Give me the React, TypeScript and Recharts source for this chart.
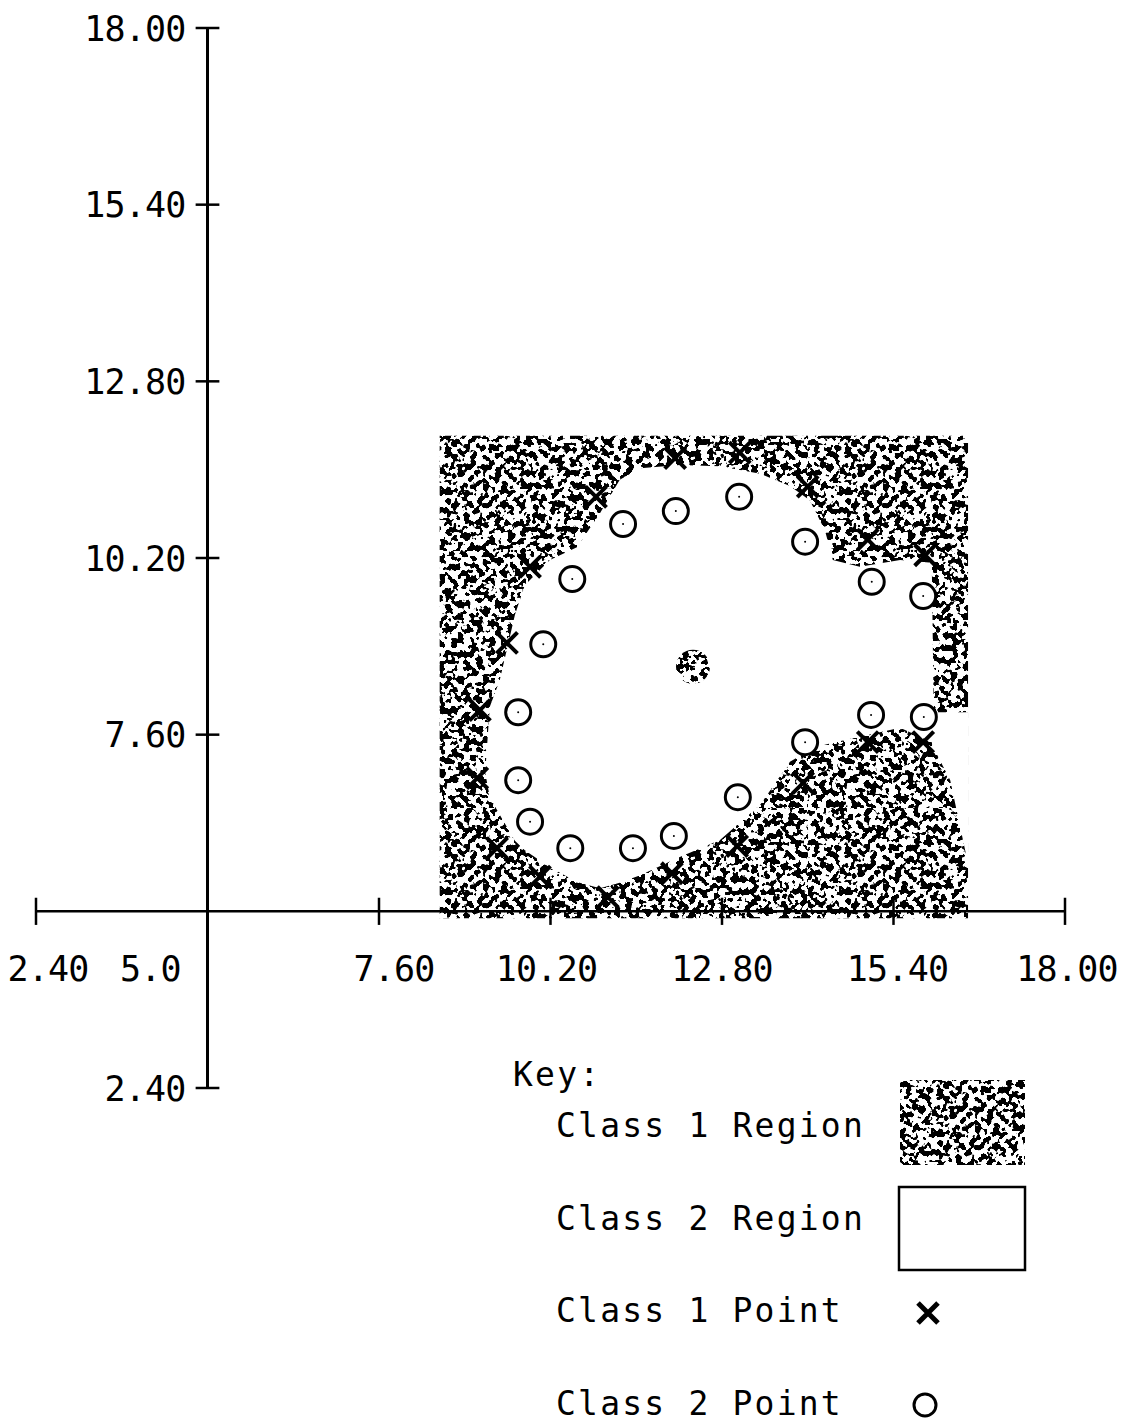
import React from 'react';
import {
  ComposedChart,
  Area,
  Scatter,
  XAxis,
  YAxis,
  ReferenceLine,
  ReferenceDot,
  Legend,
} from 'recharts';

const FONT = '"DejaVu Sans Mono", monospace';

// axis ticks (axes cross at 5.0)
const xTickValues = [2.4, 5.0, 7.6, 10.2, 12.8, 15.4, 18.0];
const xTickLabels = ['2.40', '5.0', '7.60', '10.20', '12.80', '15.40', '18.00'];
const yTickValues = [18.0, 15.4, 12.8, 10.2, 7.6, 2.4];
const yTickLabels = ['18.00', '15.40', '12.80', '10.20', '7.60', '2.40'];

// class 1 region is the whole box, class 2 region is cut out of it (lower / upper edge at each x)
const regionX = [8.52, 9.21, 9.28, 9.43, 9.66, 9.81, 10.19, 10.6, 10.95, 11.25, 11.56, 12.16, 12.77, 13.38, 13.83, 14.13, 14.36, 14.48, 14.89, 15.5, 15.98, 16.01, 16.26, 16.53];
const class1Range = [4.9, 12.0];
const class2Lower = [7.04, 7.04, 6.68, 6.42, 6.04, 5.9, 5.65, 5.43, 5.34, 5.42, 5.53, 5.8, 6.05, 6.57, 7.2, 7.37, 7.45, 7.48, 7.57, 7.7, 7.49, 7.4, 6.93, 5.7];
const class2Upper = [7.04, 7.04, 8.01, 8.4, 9.36, 9.8, 10.17, 10.36, 10.86, 11.35, 11.52, 11.57, 11.55, 11.44, 11.26, 11.05, 10.61, 10.17, 10.07, 10.17, 10.13, 7.93, 7.93, 7.93];

// small class 1 island in the middle
const islandX = [12.36];
const islandY = [8.6];

// training points
const class1X = [12.09, 13.07, 10.89, 9.89, 9.54, 9.13, 9.09, 9.39, 10.04, 11.07, 12.04, 13.03, 14.03, 15.01, 15.85, 15.01, 15.88, 14.1];
const class1Y = [11.67, 11.75, 11.1, 10.07, 8.95, 7.96, 6.96, 5.93, 5.51, 5.21, 5.56, 5.96, 6.89, 7.49, 7.49, 10.47, 10.24, 11.25];
const class2X = [11.3, 12.1, 13.06, 14.06, 15.07, 15.85, 10.53, 10.09, 9.71, 9.71, 9.89, 10.5, 11.45, 12.07, 13.04, 14.06, 15.06, 15.86];
const class2Y = [10.7, 10.89, 11.1, 10.44, 9.85, 9.64, 9.89, 8.93, 7.93, 6.93, 6.32, 5.93, 5.93, 6.11, 6.68, 7.49, 7.89, 7.86];

const keyTitle = 'Key:';
const keyLabels = ['Class 1 Region', 'Class 2 Region', 'Class 1 Point', 'Class 2 Point'];

const regionData = regionX.map((x, i) => ({
  x,
  class1: class1Range,
  class2: [class2Lower[i], class2Upper[i]],
}));
const islandData = islandX.map((x, i) => ({ x, y: islandY[i] }));
const class1Data = class1X.map((x, i) => ({ x, y: class1Y[i] }));
const class2Data = class2X.map((x, i) => ({ x, y: class2Y[i] }));

// label nudges, the original plotter put a few labels off-centre
const xLabelShift: Record<string, number> = { '2.40': 12, '5.0': -57, '7.60': 15, '10.20': -4, '15.40': 4, '18.00': 2 };

const XLabel = (props: any) => {
  const { viewBox, text } = props;
  const cx = viewBox.x + viewBox.width / 2;
  const cy = viewBox.y + viewBox.height / 2;
  return (
    <text x={cx + (xLabelShift[text] || 0)} y={cy + 70} textAnchor="middle"
      fontFamily={FONT} fontSize={35} letterSpacing={-0.8} fill="#000">
      {text}
    </text>
  );
};

const YLabel = (props: any) => {
  const { viewBox, text } = props;
  const cx = viewBox.x + viewBox.width / 2;
  const cy = viewBox.y + viewBox.height / 2;
  return (
    <text x={cx - 22} y={cy + 12.5} textAnchor="end"
      fontFamily={FONT} fontSize={35} letterSpacing={-0.8} fill="#000">
      {text}
    </text>
  );
};

const Cross = (props: any) => {
  const { cx, cy } = props;
  const s = 10.5;
  return (
    <path d={`M${cx - s},${cy - s}L${cx + s},${cy + s}M${cx - s},${cy + s}L${cx + s},${cy - s}`}
      stroke="#000" strokeWidth={4} fill="none" />
  );
};

const Ring = (props: any) => {
  const { cx, cy } = props;
  return (
    <g>
      <circle cx={cx} cy={cy} r={12.5} stroke="#000" strokeWidth={3} fill="#fff" />
      <circle cx={cx} cy={cy} r={1} fill="#000" />
    </g>
  );
};

const Island = (props: any) => {
  const { cx, cy } = props;
  return <circle cx={cx} cy={cy} r={17} fill="url(#stipple)" />;
};

const KeyBox = () => (
  <svg width={560} height={380} style={{ display: 'block' }}>
    <g fontFamily={FONT} fontSize={33} letterSpacing={2.2} fill="#000">
      <text x={13} y={36}>{keyTitle}</text>
      <text x={56} y={87}>{keyLabels[0]}</text>
      <text x={56} y={180}>{keyLabels[1]}</text>
      <text x={56} y={272}>{keyLabels[2]}</text>
      <text x={56} y={365}>{keyLabels[3]}</text>
    </g>
    <rect x={400} y={30} width={125} height={85} fill="url(#stipple)" />
    <rect x={399} y={137} width={126} height={83} fill="none" stroke="#000" strokeWidth={2.5} />
    <path d="M418,253L438,273M418,273L438,253" stroke="#000" strokeWidth={5} fill="none" />
    <circle cx={425} cy={355} r={11} stroke="#000" strokeWidth={3} fill="none" />
  </svg>
);

const StippleDefs = () => (
  <svg width={0} height={0} style={{ position: 'absolute' }}>
    <defs>
      <filter id="stippleNoise" x="0" y="0" width="1" height="1" colorInterpolationFilters="sRGB">
        <feTurbulence type="fractalNoise" baseFrequency="0.16" numOctaves={2} seed={7} />
        <feColorMatrix type="matrix" values="0 0 0 0 0  0 0 0 0 0  0 0 0 0 0  -40 0 0 0 20.1" />
        <feComposite in2="SourceAlpha" operator="in" />
      </filter>
      <pattern id="stipple" patternUnits="userSpaceOnUse" width="400" height="400">
        <rect width="400" height="400" fill="#000" filter="url(#stippleNoise)" />
      </pattern>
    </defs>
  </svg>
);

export default function App() {
  return (
    <div style={{ position: 'relative', width: 1117, height: 1412, background: '#fff' }}>
      <StippleDefs />
      <ComposedChart width={1117} height={1412} data={regionData}
        margin={{ top: 20, right: 60, bottom: 332, left: 28 }}>
        <XAxis type="number" dataKey="x" domain={[2.4, 18]} allowDataOverflow hide />
        <YAxis type="number" domain={[2.4, 18]} allowDataOverflow hide />

        <Area type="linear" dataKey="class1" stroke="none" fill="url(#stipple)" fillOpacity={1}
          isAnimationActive={false} activeDot={false} />
        <Area type="linear" dataKey="class2" stroke="none" fill="#fff" fillOpacity={1}
          isAnimationActive={false} activeDot={false} />
        <Scatter data={islandData} dataKey="y" shape={Island} isAnimationActive={false} />

        <ReferenceLine x={5} stroke="#000" strokeWidth={3} />
        <ReferenceLine y={5} stroke="#000" strokeWidth={2.5} />
        {xTickValues.map((v, i) => (
          <React.Fragment key={'xt' + i}>
            {v !== 5 && (
              <ReferenceLine segment={[{ x: v, y: 4.8 }, { x: v, y: 5.2 }]} stroke="#000" strokeWidth={2.5} />
            )}
            <ReferenceDot x={v} y={5} r={0} fill="none" stroke="none"
              label={<XLabel text={xTickLabels[i]} />} />
          </React.Fragment>
        ))}
        {yTickValues.map((v, i) => (
          <React.Fragment key={'yt' + i}>
            <ReferenceLine segment={[{ x: 4.82, y: v }, { x: 5.18, y: v }]} stroke="#000" strokeWidth={2.5} />
            <ReferenceDot x={5} y={v} r={0} fill="none" stroke="none"
              label={<YLabel text={yTickLabels[i]} />} />
          </React.Fragment>
        ))}

        <Scatter name="Class 2 Point" data={class2Data} dataKey="y" shape={Ring} isAnimationActive={false} />
        <Scatter name="Class 1 Point" data={class1Data} dataKey="y" shape={Cross} isAnimationActive={false} />

        <Legend layout="vertical" align="center" verticalAlign="middle" content={KeyBox}
          wrapperStyle={{ left: 492, top: 1042, width: 560, height: 380 }} />
      </ComposedChart>
    </div>
  );
}
